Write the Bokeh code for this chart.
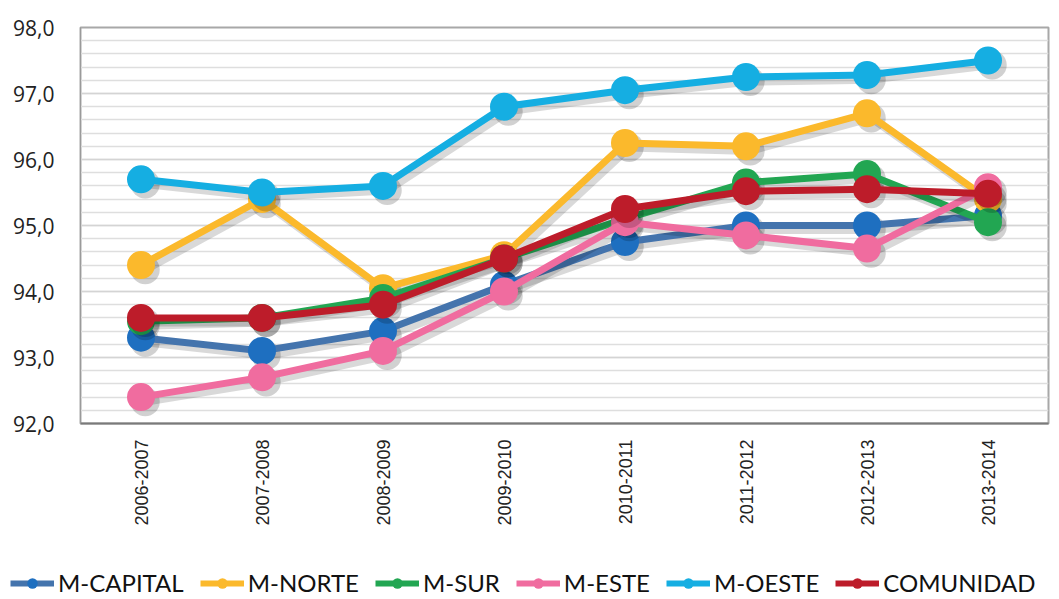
import math
from bokeh.plotting import figure
from bokeh.layouts import column, row
from bokeh.models import (FactorRange, Range1d, FixedTicker, Legend, LegendItem,
                          ColumnDataSource)
from bokeh.transform import dodge
from bokeh.embed import file_html
from bokeh.resources import INLINE

# ---- data ----
cursos = ["2006-2007", "2007-2008", "2008-2009", "2009-2010",
          "2010-2011", "2011-2012", "2012-2013", "2013-2014"]
m_capital = [93.3, 93.1, 93.4, 94.1, 94.75, 95.0, 95.0, 95.15]
m_norte = [94.4, 95.4, 94.05, 94.55, 96.25, 96.2, 96.7, 95.4]
m_sur = [93.55, 93.6, 93.9, 94.5, 95.1, 95.65, 95.78, 95.05]
m_este = [92.4, 92.7, 93.1, 94.0, 95.05, 94.85, 94.65, 95.58]
m_oeste = [95.7, 95.5, 95.6, 96.8, 97.05, 97.25, 97.28, 97.5]
comunidad = [93.6, 93.6, 93.8, 94.5, 95.25, 95.52, 95.55, 95.48]
y_ticks = [92, 93, 94, 95, 96, 97, 98]
y_tick_labels = ["92,0", "93,0", "94,0", "95,0", "96,0", "97,0", "98,0"]

series = [
    ("M-CAPITAL", m_capital, "#4474ad", "#1e6fc0"),
    ("M-NORTE", m_norte, "#fbb92c", "#fbb92c"),
    ("M-SUR", m_sur, "#22a652", "#22a652"),
    ("M-ESTE", m_este, "#f06c9f", "#f06c9f"),
    ("M-OESTE", m_oeste, "#15aee2", "#15aee2"),
    ("COMUNIDAD", comunidad, "#bd1c2a", "#bd1c2a"),
]

p = figure(width=1050, height=560, output_backend="svg", toolbar_location=None,
           x_range=FactorRange(factors=cursos, range_padding=0),
           y_range=Range1d(92, 98),
           min_border_left=80, min_border_right=2, min_border_top=27,
           min_border_bottom=137)

p.background_fill_color = "white"
p.border_fill_color = "white"
p.outline_line_color = "#a8a8a8"
p.outline_line_width = 2

# grid
p.xgrid.grid_line_color = None
p.ygrid.grid_line_color = "#d4d4d4"
p.ygrid.grid_line_width = 1.5
p.ygrid.minor_grid_line_color = "#dedede"
p.ygrid.minor_grid_line_width = 1.5

# y axis
p.yaxis.ticker = FixedTicker(ticks=y_ticks,
                             minor_ticks=[92 + 0.2 * i for i in range(31)])
p.yaxis.major_label_overrides = {t: l for t, l in zip(y_ticks, y_tick_labels)}
p.yaxis.major_label_text_font = "Open Sans"
p.yaxis.major_label_text_font_size = "21px"
p.yaxis.major_label_text_color = "#222222"
p.yaxis.major_label_standoff = 20
p.yaxis.major_tick_line_color = None
p.yaxis.minor_tick_line_color = None
p.yaxis.axis_line_color = "#9a9a9a"

# x axis
p.xaxis.major_label_orientation = math.pi / 2
p.xaxis.major_label_text_font = "Liberation Sans"
p.xaxis.major_label_text_font_size = "18px"
p.xaxis.major_label_text_color = "#222222"
p.xaxis.major_label_standoff = 10
p.xaxis.major_tick_line_color = None
p.xaxis.axis_line_color = "#7a7a7a"
p.xaxis.axis_line_width = 2

# legend strip (same series, drawn out of its visible range; only the legend shows)
lf = figure(width=1050, height=37, output_backend="svg", toolbar_location=None,
            x_range=FactorRange(factors=cursos), y_range=Range1d(0, 1),
            x_axis_type=None, y_axis_type=None,
            min_border_left=0, min_border_right=0, min_border_top=0,
            min_border_bottom=0)
lf.outline_line_color = None
lf.grid.grid_line_color = None

items = []
for name, vals, lc, mc in series:
    src = ColumnDataSource(dict(x=cursos, y=vals, ys=[v - 0.07 for v in vals]))
    # soft shadow
    p.line(x=dodge("x", 0.035, range=p.x_range), y="ys", source=src,
           line_color="#000000", line_alpha=0.15, line_width=8)
    p.scatter(x=dodge("x", 0.035, range=p.x_range), y="ys", source=src,
              size=29, fill_color="#000000", fill_alpha=0.18, line_color=None)
    p.line(x="x", y="y", source=src, line_color=lc, line_width=7)
    p.scatter(x="x", y="y", source=src, size=28, fill_color=mc, line_color=None)
    lr = lf.line(x="x", y="y", source=src, line_color=lc, line_width=6)
    cr = lf.scatter(x="x", y="y", source=src, size=18, fill_color=mc,
                    line_color=None)
    items.append(LegendItem(label=name, renderers=[lr, cr]))

legend = Legend(items=items, orientation="horizontal", location=(10, 0))
legend.label_text_font = "Lato"
legend.label_text_font_size = "24px"
legend.label_text_color = "#111111"
legend.glyph_width = 44
legend.glyph_height = 26
legend.label_standoff = 4
legend.spacing = 16
legend.padding = 0
legend.margin = 0
legend.border_line_color = None
legend.background_fill_alpha = 0
lf.add_layout(legend, "center")

layout = column(p, row(lf), spacing=0)
open("out.html", "w").write(file_html(layout, INLINE))
